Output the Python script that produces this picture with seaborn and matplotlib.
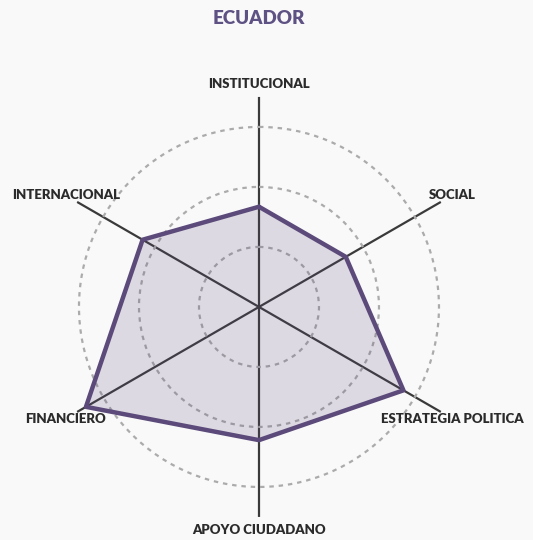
import numpy as np
import pandas as pd
import seaborn as sns
import matplotlib.pyplot as plt

# chart data
categories = ["INSTITUCIONAL", "SOCIAL", "ESTRATEGIA POLITICA",
              "APOYO CIUDADANO", "FINANCIERO", "INTERNACIONAL"]
scores = [1.67, 1.67, 2.78, 2.22, 3.33, 2.24]
rings = [1, 2, 3]
title = "ECUADOR"

purple = "#5b4a7a"
bg = "#f9f9f9"

sns.set_style("white")
plt.rcParams["font.family"] = ["Lato", "DejaVu Sans"]

angles = np.linspace(0, 2 * np.pi, len(categories), endpoint=False)
df = pd.DataFrame({
    "theta": np.append(angles, 2 * np.pi),
    "score": scores + scores[:1],
})

fig = plt.figure(figsize=(5.33, 5.4), dpi=100, facecolor=bg)
ax = fig.add_axes([0.0919, 0.0426, 0.788, 0.778], projection="polar")
ax.set_facecolor(bg)
ax.set_theta_offset(np.pi / 2)
ax.set_theta_direction(-1)

# spokes and dashed rings via the polar grid
ax.set_xticks(angles)
ax.set_xticklabels([])
ax.set_yticks(rings)
ax.set_yticklabels([])
ax.xaxis.grid(True, color="#3a3a3a", linewidth=1.6, linestyle="-")
ax.yaxis.grid(True, color="#ababab", linewidth=1.6, linestyle=(0, (2, 2.2)))
ax.spines["polar"].set_visible(False)

ax.fill(df["theta"], df["score"], color=purple, alpha=0.18, zorder=2)
sns.lineplot(data=df, x="theta", y="score", sort=False, estimator=None,
             color=purple, linewidth=3.2, ax=ax, zorder=3)
ax.set_xlabel("")
ax.set_ylabel("")
ax.set_xlim(0, 2 * np.pi)
ax.set_ylim(0, 3.5)

for ang, lab in zip(angles, categories):
    ax.text(ang, 3.72, lab, ha="center", va="center", fontsize=9.5,
            fontweight="heavy", color="#2b2b2b", clip_on=False)

fig.text(0.486, 0.966, title, ha="center", va="center", fontsize=13.5,
         fontweight="heavy", color="#5e5284")

fig.savefig("out.png", dpi=100, facecolor=bg)
